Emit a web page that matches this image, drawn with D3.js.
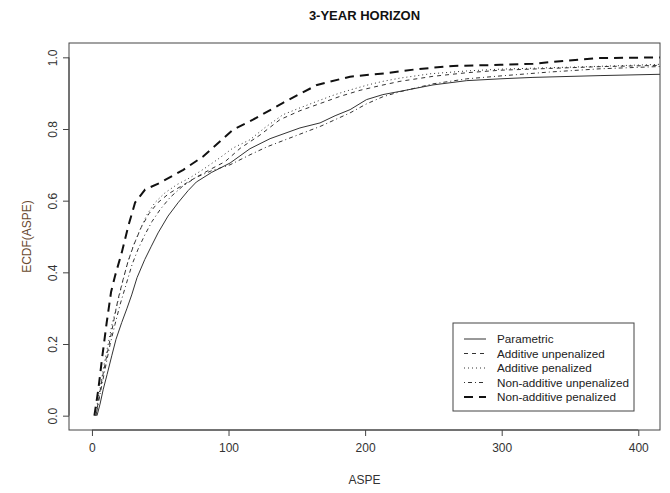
<!DOCTYPE html>
<html>
<head>
<meta charset="utf-8">
<script src="https://cdn.jsdelivr.net/npm/d3@7"></script>
<style>
  body { margin: 0; background: #fff; }
  svg { font-family: "Liberation Sans", Arial, sans-serif; }
</style>
</head>
<body>
<div id="chart"></div>
<script>
// ECDF curves (ASPE, cumulative share)
var parametricX = [3.7, 5.9, 8.3, 11.1, 14.5, 17.6, 21.8, 25.7, 29.1, 33, 38.7, 43.5, 48.4, 55.7, 63, 70.4, 76.4, 87.7, 101.1, 115.7, 130.4, 145, 152.3, 167, 178, 189, 201, 213, 225.5, 249.7, 274.4, 298.8, 322.9, 372, 420];
var parametricY = [0, 0.032, 0.074, 0.115, 0.167, 0.213, 0.26, 0.3, 0.337, 0.385, 0.436, 0.473, 0.51, 0.557, 0.594, 0.628, 0.652, 0.679, 0.705, 0.745, 0.773, 0.793, 0.803, 0.817, 0.837, 0.854, 0.882, 0.896, 0.905, 0.923, 0.935, 0.94, 0.944, 0.949, 0.953];

var addUnpenX = [3, 5.2, 7.4, 10.3, 13.3, 16.2, 19.1, 22.8, 26.4, 30.8, 36, 41.8, 48.4, 56.4, 66, 76.2, 86.5, 97.5, 108.5, 123, 137.6, 152.3, 167, 181.6, 196.3, 210.9, 225.5, 249.7, 274.4, 298.8, 335, 372, 420];
var addUnpenY = [0, 0.052, 0.102, 0.157, 0.213, 0.269, 0.325, 0.38, 0.43, 0.478, 0.525, 0.564, 0.595, 0.62, 0.642, 0.665, 0.687, 0.709, 0.746, 0.783, 0.826, 0.851, 0.871, 0.891, 0.908, 0.921, 0.933, 0.947, 0.957, 0.964, 0.969, 0.974, 0.978];

var addPenX = [2.3, 4.5, 6.7, 8.9, 11.8, 14.7, 18.4, 22, 25.7, 30.1, 35.2, 40.3, 46.2, 53.5, 62.3, 71.8, 81.3, 91.6, 103.3, 115.7, 126.7, 139.9, 152.3, 164.6, 178, 189, 202, 213, 225.5, 247.5, 274.4, 298.8, 335, 372, 420];
var addPenY = [0, 0.046, 0.093, 0.143, 0.199, 0.255, 0.31, 0.366, 0.422, 0.472, 0.519, 0.561, 0.595, 0.622, 0.645, 0.664, 0.687, 0.714, 0.747, 0.77, 0.804, 0.84, 0.859, 0.877, 0.896, 0.909, 0.923, 0.933, 0.942, 0.954, 0.962, 0.967, 0.971, 0.975, 0.981];

var nonAddUnpenX = [3, 5.2, 7.4, 10.3, 13.3, 16.9, 20.6, 25, 29.4, 33.7, 38.9, 44, 49.9, 57.2, 66, 76.2, 87.9, 101.1, 115.7, 128, 145, 167, 189, 201, 213, 225.5, 249.7, 274.4, 298.8, 335, 372, 420];
var nonAddUnpenY = [0, 0.046, 0.088, 0.143, 0.199, 0.255, 0.31, 0.366, 0.422, 0.464, 0.506, 0.542, 0.575, 0.609, 0.639, 0.665, 0.684, 0.7, 0.728, 0.75, 0.775, 0.807, 0.845, 0.87, 0.89, 0.904, 0.926, 0.94, 0.948, 0.959, 0.968, 0.975];

var nonAddPenX = [1.8, 4.7, 7.6, 10.8, 14, 16.9, 21.8, 26.6, 31.6, 38.9, 49.9, 66.9, 81.6, 103.3, 117.9, 139.9, 164.8, 189, 216, 238, 264.5, 299, 323, 348, 372, 420];
var nonAddPenY = [0, 0.074, 0.166, 0.26, 0.345, 0.39, 0.455, 0.529, 0.595, 0.631, 0.65, 0.686, 0.724, 0.798, 0.826, 0.873, 0.923, 0.946, 0.956, 0.967, 0.976, 0.979, 0.982, 0.991, 0.998, 1.0];

var seriesNames = ["Parametric", "Additive unpenalized", "Additive penalized", "Non-additive unpenalized", "Non-additive penalized"];
var xTicks = [0, 100, 200, 300, 400];
var yTicks = [0, 0.2, 0.4, 0.6, 0.8, 1.0];

// line styles, in legend order (R lty 1..4 plus a thick dashed)
var styles = [
	{dash: null, width: 1, color: "#333"},
	{dash: "4,4", width: 1, color: "#333"},
	{dash: "1,3", width: 1, color: "#333"},
	{dash: "1,3,4,3", width: 1, color: "#333"},
	{dash: "9,6", width: 2, color: "#111"}
];

function zip(xs, ys){
	return xs.map(function(x, i){ return {x: x, y: ys[i]}; });
}

var series = [
	zip(parametricX, parametricY),
	zip(addUnpenX, addUnpenY),
	zip(addPenX, addPenY),
	zip(nonAddUnpenX, nonAddUnpenY),
	zip(nonAddPenX, nonAddPenY)
];

var W = 670, H = 493;
var margin = {top: 43, right: 10, bottom: 63, left: 69};
var width = W - margin.left - margin.right;
var height = H - margin.top - margin.bottom;

var x = d3.scaleLinear().domain([-16.8, 415.9]).range([0, width]);
var y = d3.scaleLinear().domain([-0.04, 1.04]).range([height, 0]);

var svg = d3.select("#chart").append("svg")
	.attr("width", W)
	.attr("height", H);

var g = svg.append("g")
	.attr("transform", "translate(" + margin.left + "," + margin.top + ")");

g.append("defs").append("clipPath").attr("id", "plotclip")
	.append("rect").attr("width", width).attr("height", height);

var line = d3.line()
	.x(function(d) { return x(d.x); })
	.y(function(d) { return y(d.y); });

g.append("g").attr("clip-path", "url(#plotclip)")
	.selectAll("path")
	.data(series)
	.enter().append("path")
		.attr("d", line)
		.attr("fill", "none")
		.attr("stroke", function(d, i) { return styles[i].color; })
		.attr("stroke-width", function(d, i) { return styles[i].width; })
		.attr("stroke-dasharray", function(d, i) { return styles[i].dash; });

// axes
var xAxis = g.append("g")
	.attr("transform", "translate(0," + height + ")")
	.call(d3.axisBottom(x).tickValues(xTicks).tickSize(6).tickPadding(7).tickFormat(d3.format("d")));
xAxis.select(".domain").attr("d", "M" + x(xTicks[0]) + ",0H" + x(xTicks[xTicks.length - 1]));

var yAxis = g.append("g")
	.call(d3.axisLeft(y).tickValues(yTicks).tickSize(6).tickFormat(d3.format(".1f")));
yAxis.select(".domain").attr("d", "M0," + y(yTicks[0]) + "V" + y(yTicks[yTicks.length - 1]));
yAxis.selectAll(".tick text")
	.attr("transform", "rotate(-90)")
	.attr("x", 0)
	.attr("y", -12)
	.attr("dy", 0)
	.attr("text-anchor", "middle");

svg.selectAll(".tick line, .domain").attr("stroke", "#444");
svg.selectAll(".tick text").attr("font-size", 12).attr("fill", "#333")
	.attr("font-family", "Liberation Sans, Arial, sans-serif");

// box
g.append("rect")
	.attr("width", width).attr("height", height)
	.attr("fill", "none").attr("stroke", "#444").attr("stroke-width", 1);

// titles
svg.append("text")
	.attr("x", margin.left + width / 2).attr("y", 20)
	.attr("text-anchor", "middle")
	.attr("font-size", 13).attr("font-weight", "bold").attr("fill", "#111")
	.text("3-YEAR HORIZON");

svg.append("text")
	.attr("x", margin.left + width / 2).attr("y", 484)
	.attr("text-anchor", "middle")
	.attr("font-size", 12).attr("fill", "#333")
	.text("ASPE");

svg.append("text")
	.attr("transform", "translate(31," + (margin.top + height / 2) + ") rotate(-90)")
	.attr("text-anchor", "middle")
	.attr("font-size", 12).attr("fill", "#6a4a30")
	.text("ECDF(ASPE)");

// legend
var legend = svg.append("g").attr("transform", "translate(453,323)");
legend.append("rect")
	.attr("width", 181).attr("height", 88)
	.attr("fill", "#fff").attr("stroke", "#444");

var item = legend.selectAll(".item")
	.data(seriesNames)
	.enter().append("g")
	.attr("class", "item")
	.attr("transform", function(d, i) { return "translate(0," + (16 + i * 14.5) + ")"; });

item.append("line")
	.attr("x1", 11).attr("x2", 33)
	.attr("stroke", function(d, i) { return styles[i].color; })
	.attr("stroke-width", function(d, i) { return styles[i].width; })
	.attr("stroke-dasharray", function(d, i) { return styles[i].dash; });

item.append("text")
	.attr("x", 44).attr("dy", "0.35em")
	.attr("font-size", 11.7).attr("fill", "#222")
	.text(function(d) { return d; });
</script>
</body>
</html>
